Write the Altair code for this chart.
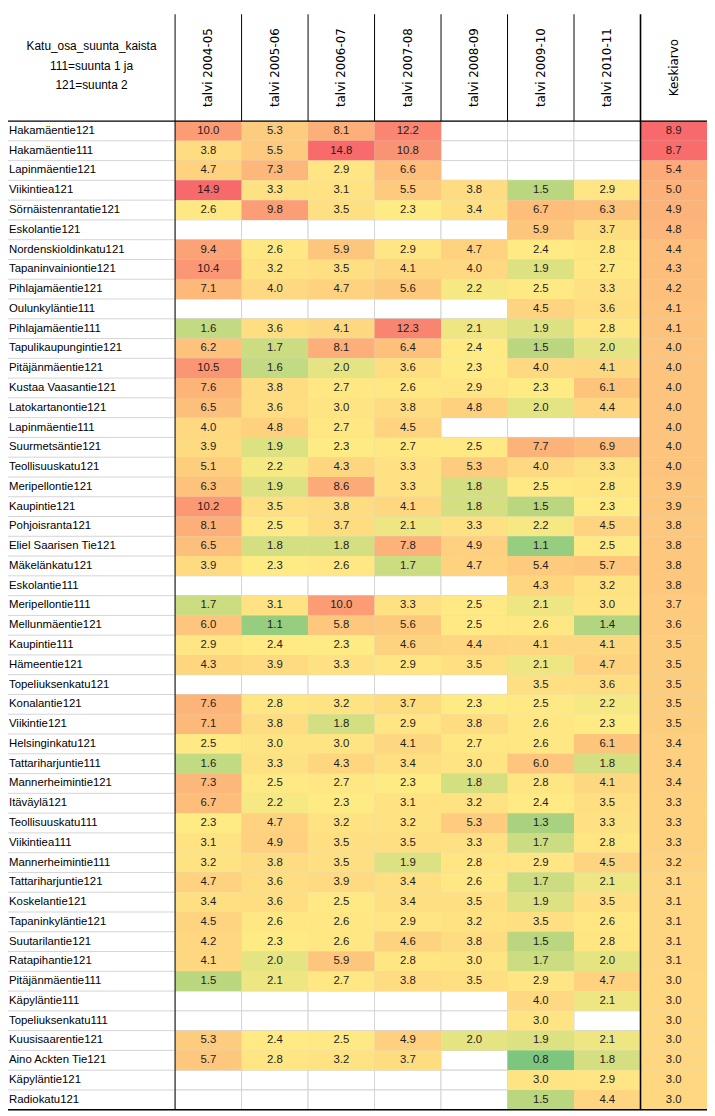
import altair as alt
import pandas as pd

# ---------------- data ----------------
rows = [
    "Hakamäentie121", "Hakamäentie111", "Lapinmäentie121", "Viikintiea121",
    "Sörnäistenrantatie121", "Eskolantie121", "Nordenskioldinkatu121",
    "Tapaninvainiontie121", "Pihlajamäentie121", "Oulunkyläntie111",
    "Pihlajamäentie111", "Tapulikaupungintie121", "Pitäjänmäentie121",
    "Kustaa Vaasantie121", "Latokartanontie121", "Lapinmäentie111",
    "Suurmetsäntie121", "Teollisuuskatu121", "Meripellontie121",
    "Kaupintie121", "Pohjoisranta121", "Eliel Saarisen Tie121",
    "Mäkelänkatu121", "Eskolantie111", "Meripellontie111",
    "Mellunmäentie121", "Kaupintie111", "Hämeentie121",
    "Topeliuksenkatu121", "Konalantie121", "Viikintie121",
    "Helsinginkatu121", "Tattariharjuntie111", "Mannerheimintie121",
    "Itäväylä121", "Teollisuuskatu111", "Viikintiea111",
    "Mannerheimintie111", "Tattariharjuntie121", "Koskelantie121",
    "Tapaninkyläntie121", "Suutarilantie121", "Ratapihantie121",
    "Pitäjänmäentie111", "Käpyläntie111", "Topeliuksenkatu111",
    "Kuusisaarentie121", "Aino Ackten Tie121", "Käpyläntie121",
    "Radiokatu121",
]

columns = ["talvi 2004-05", "talvi 2005-06", "talvi 2006-07", "talvi 2007-08",
           "talvi 2008-09", "talvi 2009-10", "talvi 2010-11", "Keskiarvo"]

N = None
t0405 = [10.0, 3.8, 4.7, 14.9, 2.6, N, 9.4, 10.4, 7.1, N,
         1.6, 6.2, 10.5, 7.6, 6.5, 4.0, 3.9, 5.1, 6.3, 10.2,
         8.1, 6.5, 3.9, N, 1.7, 6.0, 2.9, 4.3, N, 7.6,
         7.1, 2.5, 1.6, 7.3, 6.7, 2.3, 3.1, 3.2, 4.7, 3.4,
         4.5, 4.2, 4.1, 1.5, N, N, 5.3, 5.7, N, N]
t0506 = [5.3, 5.5, 7.3, 3.3, 9.8, N, 2.6, 3.2, 4.0, N,
         3.6, 1.7, 1.6, 3.8, 3.6, 4.8, 1.9, 2.2, 1.9, 3.5,
         2.5, 1.8, 2.3, N, 3.1, 1.1, 2.4, 3.9, N, 2.8,
         3.8, 3.0, 3.3, 2.5, 2.2, 4.7, 4.9, 3.8, 3.6, 3.6,
         2.6, 2.3, 2.0, 2.1, N, N, 2.4, 2.8, N, N]
t0607 = [8.1, 14.8, 2.9, 3.1, 3.5, N, 5.9, 3.5, 4.7, N,
         4.1, 8.1, 2.0, 2.7, 3.0, 2.7, 2.3, 4.3, 8.6, 3.8,
         3.7, 1.8, 2.6, N, 10.0, 5.8, 2.3, 3.3, N, 3.2,
         1.8, 3.0, 4.3, 2.7, 2.3, 3.2, 3.5, 3.5, 3.9, 2.5,
         2.6, 2.6, 5.9, 2.7, N, N, 2.5, 3.2, N, N]
t0708 = [12.2, 10.8, 6.6, 5.5, 2.3, N, 2.9, 4.1, 5.6, N,
         12.3, 6.4, 3.6, 2.6, 3.8, 4.5, 2.7, 3.3, 3.3, 4.1,
         2.1, 7.8, 1.7, N, 3.3, 5.6, 4.6, 2.9, N, 3.7,
         2.9, 4.1, 3.4, 2.3, 3.1, 3.2, 3.5, 1.9, 3.4, 3.4,
         2.9, 4.6, 2.8, 3.8, N, N, 4.9, 3.7, N, N]
t0809 = [N, N, N, 3.8, 3.4, N, 4.7, 4.0, 2.2, N,
         2.1, 2.4, 2.3, 2.9, 4.8, N, 2.5, 5.3, 1.8, 1.8,
         3.3, 4.9, 4.7, N, 2.5, 2.5, 4.4, 3.5, N, 2.3,
         3.8, 2.7, 3.0, 1.8, 3.2, 5.3, 3.3, 2.8, 2.6, 3.5,
         3.2, 3.8, 3.0, 3.5, N, N, 2.0, N, N, N]
t0910 = [N, N, N, 1.5, 6.7, 5.9, 2.4, 1.9, 2.5, 4.5,
         1.9, 1.5, 4.0, 2.3, 2.0, N, 7.7, 4.0, 2.5, 1.5,
         2.2, 1.1, 5.4, 4.3, 2.1, 2.6, 4.1, 2.1, 3.5, 2.5,
         2.6, 2.6, 6.0, 2.8, 2.4, 1.3, 1.7, 2.9, 1.7, 1.9,
         3.5, 1.5, 1.7, 2.9, 4.0, 3.0, 1.9, 0.8, 3.0, 1.5]
t1011 = [N, N, N, 2.9, 6.3, 3.7, 2.8, 2.7, 3.3, 3.6,
         2.8, 2.0, 4.1, 6.1, 4.4, N, 6.9, 3.3, 2.8, 2.3,
         4.5, 2.5, 5.7, 3.2, 3.0, 1.4, 4.1, 4.7, 3.6, 2.2,
         2.3, 6.1, 1.8, 4.1, 3.5, 3.3, 2.8, 4.5, 2.1, 3.5,
         2.6, 2.8, 2.0, 4.7, 2.1, N, 2.1, 1.8, 2.9, 4.4]
keskiarvo = [8.9, 8.7, 5.4, 5.0, 4.9, 4.8, 4.4, 4.3, 4.2, 4.1,
             4.1, 4.0, 4.0, 4.0, 4.0, 4.0, 4.0, 4.0, 3.9, 3.9,
             3.8, 3.8, 3.8, 3.8, 3.7, 3.6, 3.5, 3.5, 3.5, 3.5,
             3.5, 3.4, 3.4, 3.4, 3.3, 3.3, 3.3, 3.2, 3.1, 3.1,
             3.1, 3.1, 3.1, 3.0, 3.0, 3.0, 3.0, 3.0, 3.0, 3.0]

header_title = "Katu_osa_suunta_kaista\n111=suunta 1 ja\n121=suunta 2"

series = [t0405, t0506, t0607, t0708, t0809, t0910, t1011, keskiarvo]

# ---------------- layout ----------------
W, H = 707, 1108
LABEL_PX, HEADER_PX = 169, 108
n_cols, n_rows = len(columns), len(rows)
col_px = (W - LABEL_PX) / n_cols
row_px = (H - HEADER_PX) / n_rows
label_u = LABEL_PX / col_px
header_u = HEADER_PX / row_px

XS = alt.Scale(domain=[-label_u, n_cols], nice=False, zero=False)
YS = alt.Scale(domain=[-header_u, n_rows], nice=False, zero=False, reverse=True)

recs = []
for c, (col, vals) in enumerate(zip(columns, series)):
    for r, name in enumerate(rows):
        recs.append({"row": name, "r": r, "r2": r + 1, "rm": r + 0.5,
                     "c": c, "c2": c + 1, "cm": c + 0.5,
                     "col": col, "value": vals[r],
                     "kind": "avg" if col == "Keskiarvo" else "year"})
cells = pd.DataFrame(recs)

labels = pd.DataFrame({"row": rows, "r": range(n_rows)})
labels["r2"] = labels["r"] + 1
labels["rm"] = labels["r"] + 0.5
labels["x0"] = -label_u
labels["x1"] = 0

heads = pd.DataFrame({"col": columns, "cm": [c + 0.5 for c in range(n_cols)],
                      "ym": -header_u / 2})
title_df = pd.DataFrame({"t": [header_title], "x": [-label_u / 2], "y": [-header_u / 2]})

# black borders
lines = []
for c in range(1, n_cols - 1):
    lines.append({"x": c, "x2": c, "y": -header_u, "y2": 0, "w": 1})
lines.append({"x": 0, "x2": 0, "y": -header_u, "y2": n_rows, "w": 1})
lines.append({"x": n_cols - 1, "x2": n_cols - 1, "y": -header_u, "y2": n_rows, "w": 1.6})
lines.append({"x": -label_u, "x2": n_cols, "y": 0, "y2": 0, "w": 1.2})
lines.append({"x": -label_u, "x2": n_cols, "y": n_rows, "y2": n_rows, "w": 1.6})
lines_df = pd.DataFrame(lines)

GRID = "#D4D4D4"
COLS3 = ["#63BE7B", "#FFEB84", "#F8696B"]
FONT = "Liberation Sans, sans-serif"

bg = alt.Chart(cells).mark_rect(fill="white", stroke=GRID, strokeWidth=1).encode(
    x=alt.X("c:Q", scale=XS, axis=None), x2="c2:Q",
    y=alt.Y("r:Q", scale=YS, axis=None), y2="r2:Q")

label_lines = alt.Chart(labels).mark_rule(color=GRID, strokeWidth=1).encode(
    x=alt.X("x0:Q", scale=XS, axis=None), x2="x1:Q",
    y=alt.Y("r2:Q", scale=YS, axis=None))

year_cells = alt.Chart(cells).transform_filter(
    "datum.value != null && datum.kind == 'year'").mark_rect().encode(
    x=alt.X("c:Q", scale=XS, axis=None), x2="c2:Q",
    y=alt.Y("r:Q", scale=YS, axis=None), y2="r2:Q",
    color=alt.Color("value:Q", legend=None,
                    scale=alt.Scale(domain=[0.5, 2.3, 14.9], range=COLS3, interpolate="rgb")))

avg_cells = alt.Chart(cells).transform_filter(
    "datum.value != null && datum.kind == 'avg'").mark_rect().encode(
    x=alt.X("c:Q", scale=XS, axis=None), x2="c2:Q",
    y=alt.Y("r:Q", scale=YS, axis=None), y2="r2:Q",
    fill=alt.Fill("value:Q", legend=None,
                  scale=alt.Scale(domain=[0.0, 1.9, 8.9], range=COLS3, interpolate="rgb")))

cell_text = alt.Chart(cells).transform_filter("datum.value != null").mark_text(
    font=FONT, fontSize=11.5, color="#1E1E1E", align="center", baseline="middle").encode(
    x=alt.X("cm:Q", scale=XS, axis=None),
    y=alt.Y("rm:Q", scale=YS, axis=None),
    text=alt.Text("value:Q", format=".1f"))

row_text = alt.Chart(labels).mark_text(
    font=FONT, fontSize=11.5, color="#000000", align="left", baseline="middle", dx=1).encode(
    x=alt.X("x0:Q", scale=XS, axis=None),
    y=alt.Y("rm:Q", scale=YS, axis=None),
    text="row:N")

head_text = alt.Chart(heads).mark_text(
    font="DejaVu Sans", fontSize=12, color="#000000", angle=270,
    align="center", baseline="middle").encode(
    x=alt.X("cm:Q", scale=XS, axis=None),
    y=alt.Y("ym:Q", scale=YS, axis=None),
    text="col:N")

title_text = alt.Chart(title_df).mark_text(
    font=FONT, fontSize=12, color="#000000", align="center", baseline="middle",
    lineBreak="\n", lineHeight=20, dy=-22).encode(
    x=alt.X("x:Q", scale=XS, axis=None),
    y=alt.Y("y:Q", scale=YS, axis=None),
    text="t:N")

borders = alt.Chart(lines_df).mark_rule(color="#000000").encode(
    x=alt.X("x:Q", scale=XS, axis=None), x2="x2:Q",
    y=alt.Y("y:Q", scale=YS, axis=None), y2="y2:Q",
    strokeWidth=alt.StrokeWidth("w:Q", scale=None, legend=None))

chart = alt.layer(bg, label_lines, year_cells, avg_cells, cell_text, row_text,
                  head_text, title_text, borders).resolve_scale(
    color="independent", fill="independent").properties(
    width=W, height=H, padding=0,
    autosize=alt.AutoSizeParams(type="none")).configure_view(stroke=None)

chart.save("out.html", embed_options={"renderer": "svg", "actions": False})
